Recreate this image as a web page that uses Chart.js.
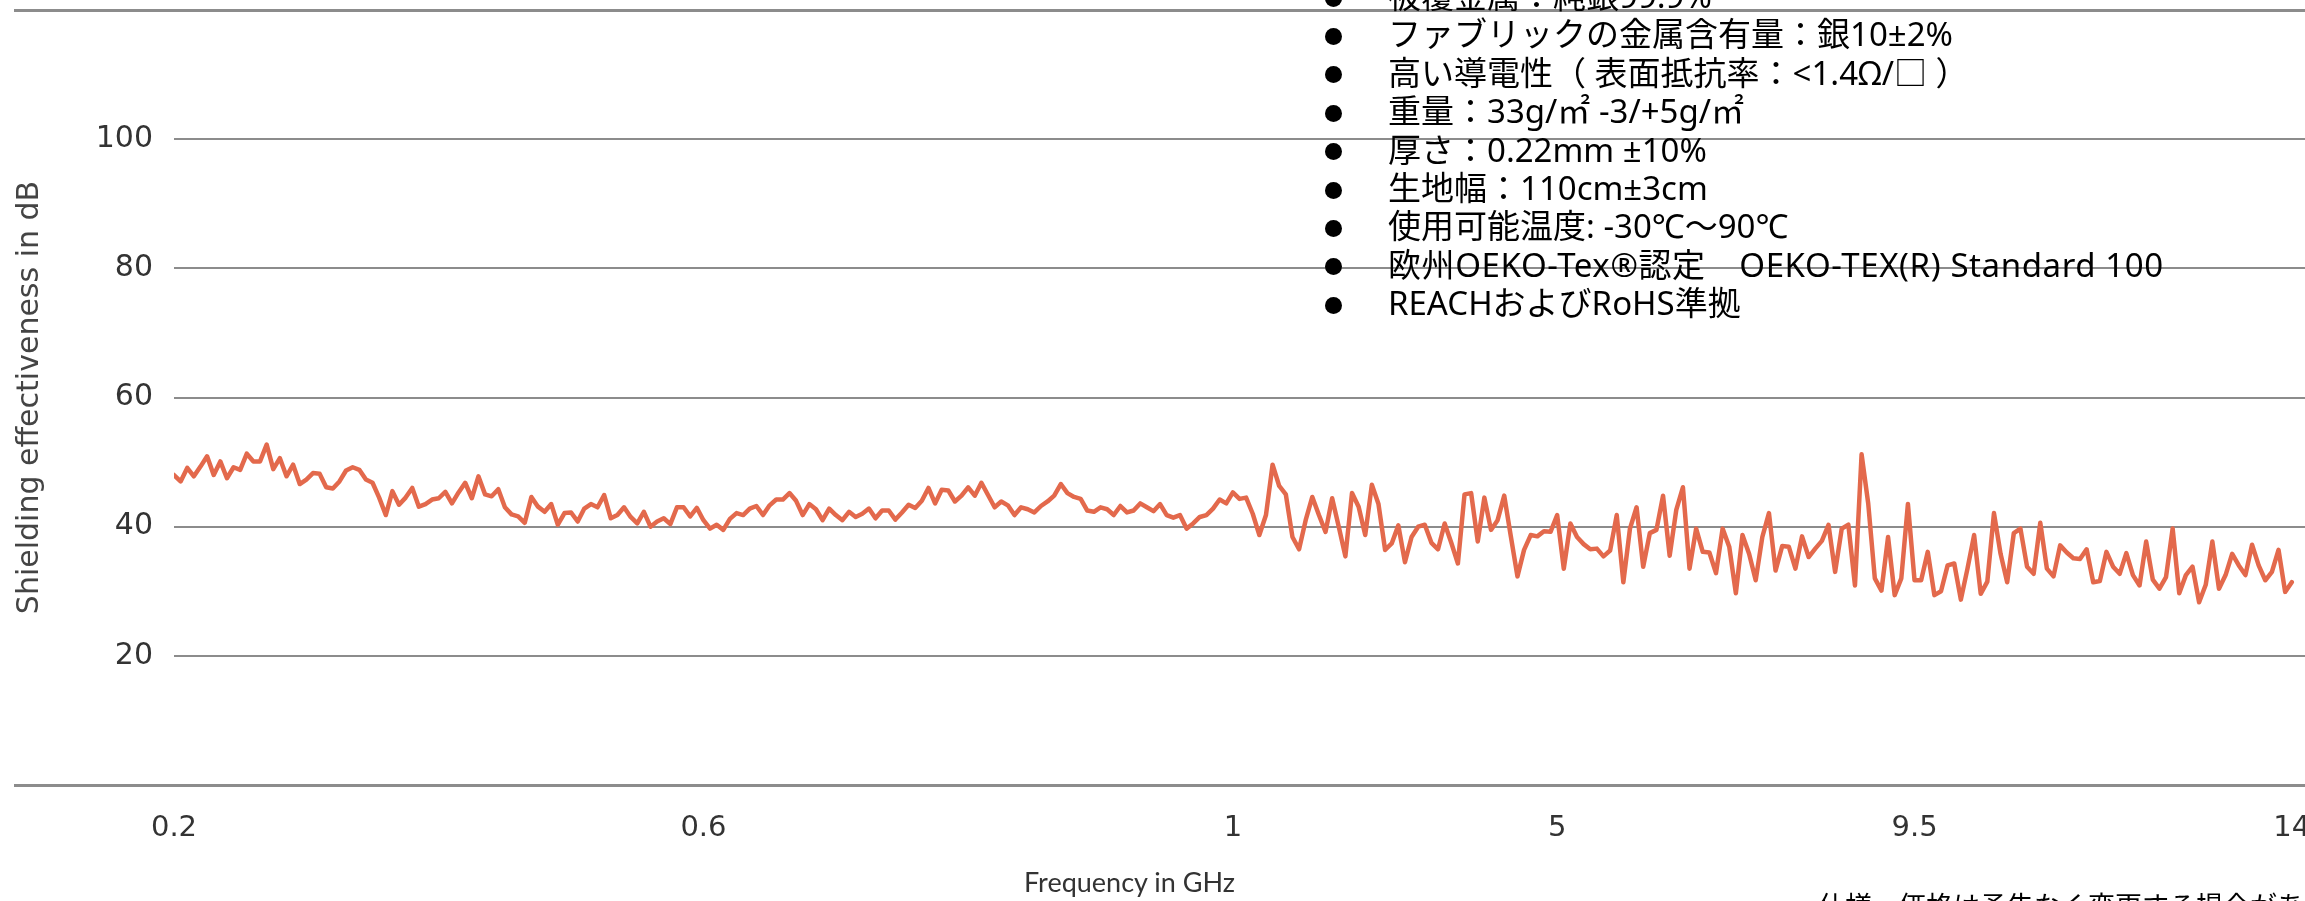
<!DOCTYPE html>
<html>
<head>
<meta charset="utf-8">
<script src="https://cdn.jsdelivr.net/npm/chart.js@4.4.0/dist/chart.umd.min.js"></script>
<style>
html,body{margin:0;padding:0;background:#fff;overflow:hidden;width:2305px;height:901px;}
#wrap{position:relative;width:2305px;height:901px;overflow:hidden;}
#chart{position:absolute;left:0;top:0;}
#spec{position:absolute;left:1325px;top:-23px;margin:0;padding:0;list-style:none;font-family:"Noto Sans","Noto Sans CJK JP";font-size:33px;line-height:38.4px;color:#000;}
#spec li{position:relative;padding-left:63px;white-space:nowrap;}
#spec li::before{content:"";position:absolute;left:0;top:12.5px;width:17px;height:17px;border-radius:50%;background:#000;}
#spec li.wide{letter-spacing:0.6px;}
#xtitle{position:absolute;left:1024px;top:866px;font-family:Lato;font-size:27px;line-height:1.2;color:#333;white-space:nowrap;}
#note{position:absolute;left:1818px;top:891px;font-family:"Noto Sans CJK JP";font-size:27px;line-height:27px;color:#000;white-space:nowrap;}
</style>
</head>
<body>
<div id="wrap">
<canvas id="chart" width="2305" height="901"></canvas>
<ul id="spec">
<li>被覆金属：純銀99.9%</li>
<li>ファブリックの金属含有量：銀10±2%</li>
<li>高い導電性（ 表面抵抗率：&lt;1.4Ω/□ ）</li>
<li>重量：33g/㎡ -3/+5g/㎡</li>
<li>厚さ：0.22mm ±10%</li>
<li>生地幅：110cm±3cm</li>
<li>使用可能温度: -30℃～90℃</li>
<li class="wide">欧州OEKO-Tex®認定　OEKO-TEX(R) Standard 100</li>
<li>REACHおよびRoHS準拠</li>
</ul>
<div id="xtitle">Frequency in GHz</div>
<div id="note">仕様・価格は予告なく変更する場合があります。</div>
</div>
<script>
// Frequency tick labels (GHz) and the sample index at which each one sits
const tickLabels = ['0.2', '0.6', '1', '5', '9.5', '14'];
const tickIndex = [0, 80, 160, 209, 263, 320];
// y-axis (dB) gridline values
const yMin = 0, yMax = 120, yStep = 20;
// Shielding effectiveness in dB, one value per sample
const shielding = [
48.0,47.0,49.1,47.8,49.3,50.9,48.0,50.1,47.5,49.2,
48.8,51.3,50.1,50.1,52.7,48.9,50.6,47.8,49.6,46.6,
47.3,48.3,48.2,46.1,45.9,47.0,48.7,49.2,48.8,47.3,
46.8,44.5,41.8,45.5,43.4,44.5,46.0,43.1,43.5,44.2,
44.4,45.4,43.6,45.3,46.8,44.4,47.8,45.0,44.7,45.8,
43.0,41.9,41.6,40.6,44.6,43.1,42.3,43.5,40.3,42.1,
42.2,40.8,42.8,43.5,43.0,44.9,41.3,41.8,43.0,41.5,
40.5,42.3,40.0,40.8,41.3,40.4,43.0,43.0,41.6,42.9,
41.0,39.7,40.3,39.5,41.2,42.1,41.8,42.8,43.2,41.8,
43.3,44.2,44.2,45.2,44.0,41.8,43.5,42.7,41.0,42.8,
41.8,41.0,42.3,41.5,42.0,42.8,41.3,42.5,42.5,41.1,
42.2,43.4,42.9,44.0,46.0,43.6,45.7,45.6,43.9,44.8,
46.1,44.8,46.8,44.9,43.0,43.9,43.3,41.8,43.0,42.7,
42.2,43.2,43.9,44.8,46.6,45.2,44.6,44.3,42.5,42.3,
43.0,42.7,41.8,43.2,42.2,42.5,43.6,43.0,42.4,43.5,
41.8,41.4,41.8,39.7,40.5,41.5,41.8,42.8,44.2,43.6,
45.3,44.3,44.5,42.0,38.7,41.8,49.6,46.3,45.0,38.4,
36.5,41.0,44.6,41.8,39.2,44.4,40.0,35.4,45.2,43.1,
38.7,46.5,43.5,36.4,37.4,40.2,34.5,38.4,40.0,40.3,
37.5,36.5,40.5,37.5,34.3,45.0,45.2,37.7,44.5,39.5,
41.0,44.8,38.5,32.3,36.4,38.7,38.5,39.3,39.2,41.8,
33.5,40.5,38.4,37.3,36.5,36.6,35.4,36.3,41.8,31.4,
39.7,43.0,33.8,39.0,39.5,44.8,35.5,42.6,46.1,33.5,
39.7,36.1,36.0,32.8,39.7,36.9,29.7,38.7,35.8,31.7,
38.4,42.1,33.2,37.0,36.9,33.5,38.5,35.3,36.6,37.8,
40.3,33.0,39.7,40.3,30.9,51.2,43.6,32.0,30.1,38.4,
29.4,32.0,43.5,31.7,31.7,36.1,29.4,30.0,34.0,34.3,
28.7,33.5,38.7,29.6,31.5,42.1,35.8,31.4,39.0,39.7,
33.8,32.7,40.6,33.5,32.3,37.1,36.0,35.1,35.0,36.5,
31.4,31.6,36.1,33.8,32.7,35.9,32.5,30.9,37.7,31.8,
30.4,32.2,39.7,29.7,32.5,33.8,28.3,31.0,37.7,30.4,
32.5,35.8,34.0,32.5,37.2,34.0,31.7,33.0,36.4,29.9,
31.4
];

const edgeVal = v => v === yMin || v === yMax;

new Chart(document.getElementById('chart'), {
  type: 'line',
  data: {
    datasets: [{
      data: shielding.map((v, i) => ({x: i, y: v})),
      borderColor: '#e3694c',
      borderWidth: 4.5,
      pointRadius: 0,
      tension: 0,
      fill: false,
      borderJoinStyle: 'round',
      borderCapStyle: 'round'
    }]
  },
  options: {
    responsive: false,
    animation: false,
    events: [],
    layout: {padding: {top: 10, left: 0, right: 0, bottom: 0}},
    plugins: {legend: {display: false}, tooltip: {enabled: false}},
    scales: {
      x: {
        type: 'linear',
        min: 0,
        max: 322,
        grid: {display: false, drawTicks: false},
        border: {display: false},
        afterBuildTicks: s => { s.ticks = tickIndex.map(v => ({value: v})); },
        afterFit: s => { s.paddingLeft = 0; s.paddingRight = 0; s.height = 116; },
        ticks: {
          autoSkip: false,
          maxRotation: 0,
          padding: 26,
          font: {family: 'DejaVu Sans', size: 29},
          color: '#333',
          callback: v => { const k = tickIndex.indexOf(v); return k >= 0 ? tickLabels[k] : ''; }
        }
      },
      y: {
        min: yMin,
        max: yMax,
        border: {display: false},
        afterFit: s => { s.width = 174; s.paddingTop = 0; s.paddingBottom = 0; },
        grid: {
          color: '#8c8c8c',
          lineWidth: c => edgeVal(c.tick.value) ? 3 : 2,
          drawTicks: true,
          tickLength: 160,
          tickWidth: c => edgeVal(c.tick.value) ? 3 : 2,
          tickColor: c => edgeVal(c.tick.value) ? '#8c8c8c' : 'rgba(0,0,0,0)'
        },
        ticks: {
          stepSize: yStep,
          padding: -139,
          font: {family: 'DejaVu Sans', size: 30},
          color: '#333',
          callback: v => edgeVal(v) ? '' : String(v)
        },
        title: {
          display: true,
          text: 'Shielding effectiveness in dB',
          font: {family: 'DejaVu Sans', size: 30},
          color: '#444',
          padding: {top: 12, bottom: 0}
        }
      }
    }
  }
});
</script>
</body>
</html>
